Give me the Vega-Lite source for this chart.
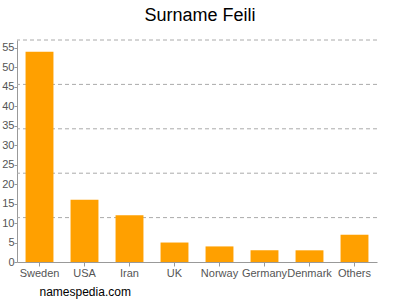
{
  "$schema": "https://vega.github.io/schema/vega-lite/v6.json",
  "width": 360,
  "height": 222,
  "autosize": "none",
  "padding": {"left": 17, "top": 40, "right": 23, "bottom": 38},
  "background": "white",
  "title": {"text": "Surname Feili", "fontSize": 18, "font": "Liberation Sans", "fontWeight": "normal", "color": "#000", "anchor": "middle", "offset": 15, "dx": 3},
  "config": {"view": {"stroke": null}, "font": "Liberation Sans"},
  "layer": [
    {
      "data": {"values": [{"g": 11.4}, {"g": 22.8}, {"g": 34.2}, {"g": 45.6}, {"g": 57}]},
      "mark": {"type": "rule", "color": "#aaaaaa", "strokeDash": [4, 3], "strokeWidth": 1},
      "encoding": {"y": {"field": "g", "type": "quantitative", "scale": {"domain": [0, 57], "nice": false},
        "axis": {"values": [0, 5, 10, 15, 20, 25, 30, 35, 40, 45, 50, 55], "labelOverlap": false, "grid": false, "title": null, "labelColor": "#555", "labelFontSize": 11, "domainColor": "#999", "tickColor": "#999", "tickSize": 3, "labelPadding": 0}}}
    },
    {
      "data": {"values": [
        {"country": "Sweden", "count": 54},
        {"country": "USA", "count": 16},
        {"country": "Iran", "count": 12},
        {"country": "UK", "count": 5},
        {"country": "Norway", "count": 4},
        {"country": "Germany", "count": 3},
        {"country": "Denmark", "count": 3},
        {"country": "Others", "count": 7}
      ]},
      "mark": {"type": "bar", "color": "#FFA000"},
      "encoding": {
        "x": {"field": "country", "type": "nominal", "sort": null,
          "scale": {"paddingInner": 0.38, "paddingOuter": 0.19},
          "axis": {"labelAngle": 0, "labelColor": "#555", "labelFontSize": 11, "domainColor": "#999", "tickColor": "#999", "tickSize": 4, "labelPadding": 1, "labelOverlap": false,
            "title": "namespedia.com", "titleFontSize": 12, "titleFontWeight": "normal", "titleColor": "#000", "titleAnchor": "start", "titleAlign": "left", "titleBaseline": "alphabetic", "titleX": 22, "titleY": 33}},
        "y": {"field": "count", "type": "quantitative",
          "scale": {"domain": [0, 57], "nice": false},
          "axis": {"values": [0, 5, 10, 15, 20, 25, 30, 35, 40, 45, 50, 55], "labelOverlap": false, "grid": false, "title": null, "labelColor": "#555", "labelFontSize": 11, "domainColor": "#999", "tickColor": "#999", "tickSize": 3, "labelPadding": 0}}
      }
    }
  ]
}
